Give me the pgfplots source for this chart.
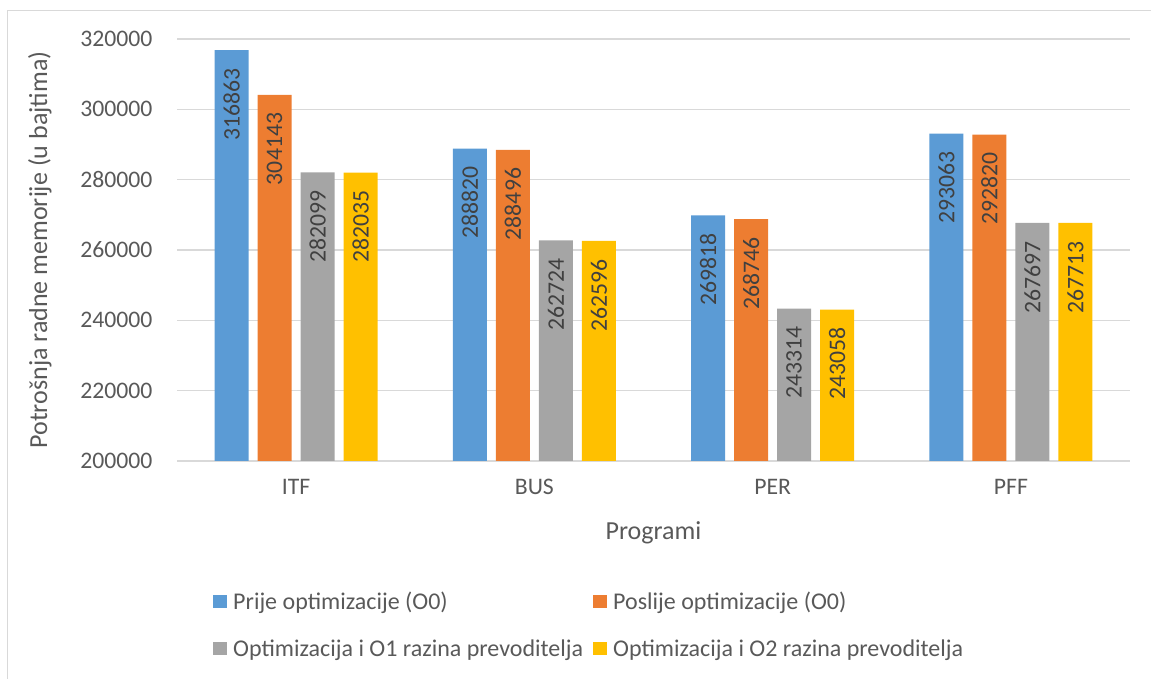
\documentclass[border=0pt]{standalone}
\usepackage{fontspec}
\setmainfont{Carlito}
\usepackage{pgfplots}
\pgfplotsset{compat=1.18}
\definecolor{cblue}{HTML}{5B9BD5}
\definecolor{corange}{HTML}{ED7D31}
\definecolor{cgray}{HTML}{A5A5A5}
\definecolor{cyellow}{HTML}{FFC000}
\definecolor{txt}{HTML}{595959}
\definecolor{lbl}{HTML}{404040}
\definecolor{grd}{HTML}{D9D9D9}
\newcommand\cf{\fontsize{24pt}{29pt}\selectfont}
\newcommand\smf{\fontsize{23.7pt}{28pt}\selectfont}
\newcommand\tf{\fontsize{26pt}{31pt}\selectfont}
\pgfplotsset{sqlegend/.style={legend image code/.code={\fill[##1] (0pt,-6.5pt) rectangle (14pt,6.5pt);}}}
\begin{document}
\begin{tikzpicture}[x=1pt,y=1pt]
\path[use as bounding box] (0,0) rectangle (1151,679);
\draw[grd, line width=1pt] (7,0) -- (7,668.5) -- (1151,668.5);
\begin{axis}[
 at={(177pt,218pt)}, anchor=south west,
 scale only axis, width=953pt, height=422pt,
 ybar=9pt, bar width=34pt,
 xmin=-0.5, xmax=3.5, ymin=200000, ymax=320000,
 xtick={0,1,2,3}, xticklabels={ITF,BUS,PER,PFF},
 ytick={200000,220000,240000,260000,280000,300000,320000},
 scaled y ticks=false,
 ticklabel style={font=\smf, text=txt},
 yticklabel style={xshift=-21pt, /pgf/number format/.cd, fixed, 1000 sep={}, assume math mode=true},
 xticklabel style={yshift=-15pt},
 major tick length=0pt,
 axis line style={draw=none},
 ymajorgrids, grid style={grd, line width=1.3pt},
 xlabel={Programi}, ylabel={Potrošnja radne memorije (u bajtima)},
 every axis x label/.style={at={(axis description cs:0.5,-0.1706)}, anchor=center, font=\tf, text=txt},
 every axis y label/.style={at={(axis description cs:-0.1438,0.5)}, rotate=90, anchor=center, font=\tf, text=txt},
 nodes near coords={\pgfmathprintnumber[fixed,precision=0,1000 sep={},assume math mode=true]{\pgfplotspointmeta}},
 every node near coord/.append style={font=\smf, text=lbl, rotate=90, anchor=east, inner xsep=18pt},
 legend columns=2,
 legend cell align=left,
 legend style={at={(axis description cs:0.0378,-0.3057)}, anchor=north west, draw=none, fill=none,
   font=\cf, text=txt, inner sep=0pt, row sep=24.5pt,
   /tikz/every odd column/.style={column sep=4pt},
   /tikz/every even column/.style={column sep=8pt}},
]
\addplot[fill=cblue, draw=none, sqlegend] coordinates {(0,316863) (1,288820) (2,269818) (3,293063)};
\addplot[fill=corange, draw=none, sqlegend] coordinates {(0,304143) (1,288496) (2,268746) (3,292820)};
\addplot[fill=cgray, draw=none, sqlegend] coordinates {(0,282099) (1,262724) (2,243314) (3,267697)};
\addplot[fill=cyellow, draw=none, sqlegend] coordinates {(0,282035) (1,262596) (2,243058) (3,267713)};
\legend{Prije optimizacije (O0), Poslije optimizacije (O0), Optimizacija i O1 razina prevoditelja, Optimizacija i O2 razina prevoditelja}
\end{axis}
\end{tikzpicture}
\end{document}
